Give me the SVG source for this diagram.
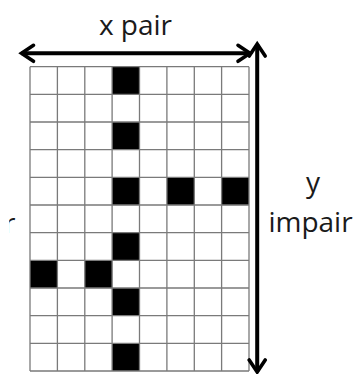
<svg xmlns="http://www.w3.org/2000/svg" width="361" height="374" viewBox="0 0 361 374">
  <style>
    .lbl { font-family: "Open Sans", "Noto Sans", sans-serif; font-size: 28px; fill: #1a1a1a; }
    .grid { stroke: #7a7a7a; stroke-width: 1.3; fill: none; }
    .cell { fill: #000; }
    .axis { stroke: #000; stroke-width: 4; fill: none; }
  </style>
  <defs>
    <marker id="chev" markerUnits="userSpaceOnUse" viewBox="-16 -12 20 24" markerWidth="20" markerHeight="24" refX="0" refY="0" orient="auto-start-reverse" overflow="visible">
      <path d="M-12,-8 L0,0 L-12,8" fill="none" stroke="#000" stroke-width="3.6" stroke-linecap="round" stroke-linejoin="miter"/>
    </marker>
    <clipPath id="cutLeft"><rect x="9.2" y="200" width="20" height="50"/></clipPath>
  </defs>
  <rect x="0" y="0" width="361" height="374" fill="#fff"/>
  <g id="grid">
    <rect x="30" y="66.7" width="219" height="304.3" fill="#fff"/>
    <g id="filled">
      <rect class="cell" x="112.1" y="66.7" width="27.4" height="27.7"/>
      <rect class="cell" x="112.1" y="122" width="27.4" height="27.7"/>
      <rect class="cell" x="112.1" y="177.4" width="27.4" height="27.7"/>
      <rect class="cell" x="166.9" y="177.4" width="27.4" height="27.7"/>
      <rect class="cell" x="221.6" y="177.4" width="27.4" height="27.7"/>
      <rect class="cell" x="112.1" y="232.7" width="27.4" height="27.7"/>
      <rect class="cell" x="30" y="260.4" width="27.4" height="27.7"/>
      <rect class="cell" x="84.8" y="260.4" width="27.4" height="27.7"/>
      <rect class="cell" x="112.1" y="288" width="27.4" height="27.7"/>
      <rect class="cell" x="112.1" y="343.3" width="27.4" height="27.7"/>
    </g>
    <path class="grid" d="M30,66.7V371 M57.4,66.7V371 M84.8,66.7V371 M112.1,66.7V371 M139.5,66.7V371 M166.9,66.7V371 M194.3,66.7V371 M221.6,66.7V371 M249,66.7V371
      M30,66.7H249 M30,94.4H249 M30,122H249 M30,149.7H249 M30,177.4H249 M30,205H249 M30,232.7H249 M30,260.4H249 M30,288H249 M30,315.7H249 M30,343.3H249 M30,371H249"/>
  </g>
  <g id="connectors">
    <line class="axis" x1="21.5" y1="53.3" x2="250" y2="53.3" marker-start="url(#chev)" marker-end="url(#chev)"/>
    <line class="axis" x1="257.2" y1="44" x2="257.2" y2="372" marker-start="url(#chev)" marker-end="url(#chev)"/>
  </g>
  <g id="label-x">
    <text class="lbl" x="135.5" y="35" text-anchor="middle">x pair</text>
  </g>
  <g id="label-y">
    <text class="lbl" x="313" y="192" text-anchor="middle">y</text>
    <text class="lbl" x="310.5" y="232" text-anchor="middle">impair</text>
  </g>
  <g id="label-left" clip-path="url(#cutLeft)">
    <text class="lbl" x="4" y="233">r</text>
  </g>
</svg>
